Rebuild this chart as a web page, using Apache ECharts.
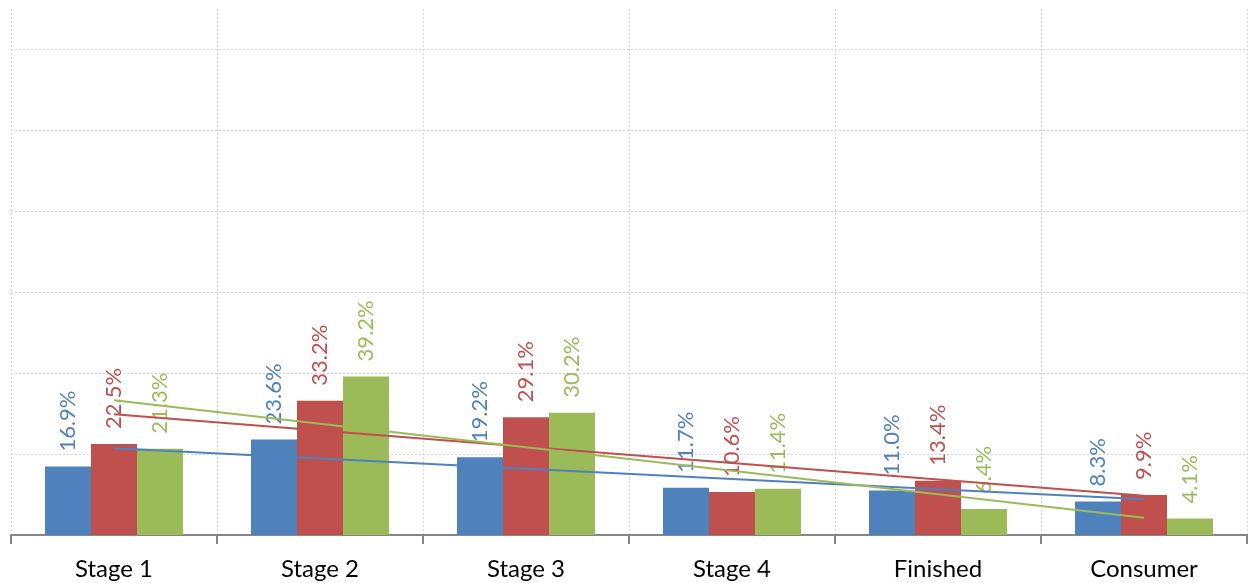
<!DOCTYPE html>
<html>
<head>
<meta charset="utf-8">
<script src="https://cdn.jsdelivr.net/npm/echarts@6/dist/echarts.min.js"></script>
<style>
  html, body { margin: 0; padding: 0; background: #fff; }
  #chart { width: 1248px; height: 583px; }
</style>
</head>
<body>
<div id="chart"></div>
<script>
// Stage-by-stage shares (%) for three series
const categories = ['Stage 1', 'Stage 2', 'Stage 3', 'Stage 4', 'Finished', 'Consumer'];
const seriesBlue  = [16.9, 23.6, 19.2, 11.7, 11.0, 8.3];
const seriesRed   = [22.5, 33.2, 29.1, 10.6, 13.4, 9.9];
const seriesGreen = [21.3, 39.2, 30.2, 11.4, 6.4, 4.1];

const colors = ['#4F81BD', '#C0504D', '#9BBB59'];

// Least-squares linear trend over category positions 1..n
function linearTrend(values) {
  const n = values.length;
  const xs = values.map((_, i) => i + 1);
  const mx = xs.reduce((a, b) => a + b, 0) / n;
  const my = values.reduce((a, b) => a + b, 0) / n;
  let sxy = 0, sxx = 0;
  for (let i = 0; i < n; i++) {
    sxy += (xs[i] - mx) * (values[i] - my);
    sxx += (xs[i] - mx) * (xs[i] - mx);
  }
  const slope = sxy / sxx;
  return xs.map(x => my + slope * (x - mx));
}

const font = 'Lato, "Open Sans", sans-serif';

function barSeries(data, color) {
  return {
    type: 'bar',
    data: data,
    barGap: '0%',
    barCategoryGap: '33%',
    itemStyle: { color: color },
    label: {
      show: true,
      position: 'top',
      rotate: 90,
      align: 'left',
      verticalAlign: 'middle',
      distance: 15,
      color: color,
      fontFamily: font,
      fontSize: 22,
      formatter: p => p.value.toFixed(1) + '%'
    },
    z: 2
  };
}

function trendSeries(data, color) {
  return {
    type: 'line',
    data: linearTrend(data),
    symbol: 'none',
    silent: true,
    lineStyle: { color: color, width: 2 },
    z: 3
  };
}

const chart = echarts.init(document.getElementById('chart'));
chart.setOption({
  animation: false,
  grid: { left: 11, right: 1, top: 9, bottom: 48, containLabel: false },
  xAxis: {
    type: 'category',
    data: categories,
    boundaryGap: true,
    axisLine: { show: true, lineStyle: { color: '#868686', width: 2 } },
    axisTick: { show: true, length: 9, lineStyle: { color: '#868686', width: 2 } },
    axisLabel: { color: '#000', fontFamily: font, fontSize: 24, margin: 22 },
    splitLine: { show: true, lineStyle: { color: '#d6d6d6', type: [2, 2], width: 1 } }
  },
  yAxis: {
    type: 'value',
    min: 0,
    max: 130,
    interval: 20,
    axisLine: { show: false },
    axisTick: { show: false },
    axisLabel: { show: false },
    splitLine: {
      show: true,
      showMinLine: false,
      showMaxLine: false,
      lineStyle: { color: '#d6d6d6', type: [2, 2], width: 1 }
    }
  },
  series: [
    barSeries(seriesBlue, colors[0]),
    barSeries(seriesRed, colors[1]),
    barSeries(seriesGreen, colors[2]),
    trendSeries(seriesBlue, colors[0]),
    trendSeries(seriesRed, colors[1]),
    trendSeries(seriesGreen, colors[2])
  ]
});
</script>
</body>
</html>
